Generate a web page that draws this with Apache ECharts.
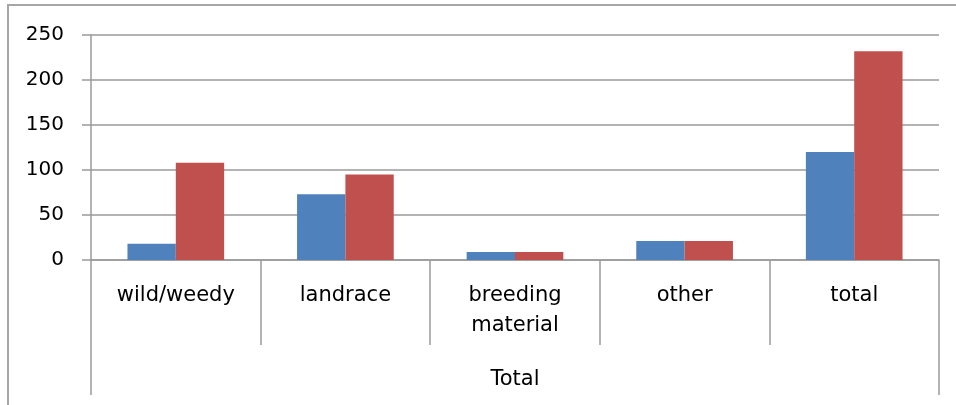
<!DOCTYPE html>
<html>
<head>
<meta charset="utf-8">
<script src="https://cdn.jsdelivr.net/npm/echarts@6/dist/echarts.min.js"></script>
<style>
html,body{margin:0;padding:0;background:#fff;}
#wrap{position:relative;width:956px;height:405px;overflow:hidden;}
#chart{position:absolute;left:0;top:0;width:956px;height:405px;}
#frame{position:absolute;left:7px;top:4px;width:960px;height:420px;border-top:2px solid #a6a6a6;border-left:2px solid #a6a6a6;pointer-events:none;}
</style>
</head>
<body>
<div id="wrap"><div id="chart"></div><div id="frame"></div></div>
<script>
const categories = ['wild/weedy', 'landrace', 'breeding\nmaterial', 'other', 'total'];
const groupLabels = ['Total'];
const seriesA = [18, 73, 9, 21, 120];
const seriesB = [108, 95, 9, 21, 232];
const yTicks = { min: 0, max: 250, interval: 50 };

const gridColor = '#9a9a9a';
const lineW = 1.5;
const font = 'DejaVu Sans';

const chart = echarts.init(document.getElementById('chart'), null, { renderer: 'canvas' });
chart.setOption({
  animation: false,
  grid: { left: 91, right: 17, top: 35, bottom: 145, containLabel: false },
  xAxis: [
    {
      type: 'category',
      data: categories,
      position: 'bottom',
      axisLine: { show: true, lineStyle: { color: gridColor, width: lineW } },
      axisTick: { show: true, interval: 0, alignWithLabel: false, length: 85, lineStyle: { color: gridColor, width: lineW } },
      axisLabel: { interval: 0, color: '#000', fontFamily: font, fontSize: 21, lineHeight: 30, margin: 21, verticalAlign: 'top' },
      splitLine: { show: false }
    },
    {
      type: 'category',
      data: groupLabels,
      position: 'bottom',
      offset: 85,
      axisLine: { show: false },
      axisTick: { show: true, interval: 0, alignWithLabel: false, length: 50, lineStyle: { color: gridColor, width: lineW } },
      axisLabel: { interval: 0, color: '#000', fontFamily: font, fontSize: 21, lineHeight: 30, margin: 20, verticalAlign: 'top' },
      splitLine: { show: false }
    }
  ],
  yAxis: {
    type: 'value',
    min: yTicks.min, max: yTicks.max, interval: yTicks.interval,
    axisLine: { show: true, lineStyle: { color: gridColor, width: lineW } },
    axisTick: { show: true, length: 9, lineStyle: { color: gridColor, width: lineW } },
    axisLabel: { color: '#000', fontFamily: font, fontSize: 20, margin: 27 },
    splitLine: { show: true, lineStyle: { color: gridColor, width: lineW } }
  },
  series: [
    { type: 'bar', xAxisIndex: 0, data: seriesA, barGap: '0%', barCategoryGap: '43%', itemStyle: { color: '#4F81BD' } },
    { type: 'bar', xAxisIndex: 0, data: seriesB, barGap: '0%', barCategoryGap: '43%', itemStyle: { color: '#C0504D' } }
  ]
});
</script>
</body>
</html>
